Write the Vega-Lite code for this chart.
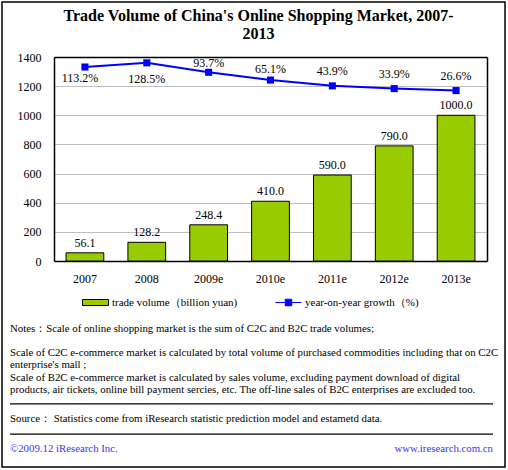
{
  "$schema": "https://vega.github.io/schema/vega-lite/v6.json",
  "width": 503,
  "height": 465,
  "autosize": {"type": "none"},
  "padding": {"left": 2, "top": 2, "right": 3, "bottom": 3},
  "background": "white",
  "title": {
    "text": ["Trade Volume of China's Online Shopping Market, 2007-", "2013"],
    "font": "Liberation Serif",
    "fontSize": 16,
    "fontWeight": "bold",
    "color": "black",
    "lineHeight": 18,
    "anchor": "middle",
    "frame": "group",
    "offset": -40,
    "dx": 5
  },
  "config": {
    "view": {"stroke": "black", "strokeWidth": 1.5},
    "font": "Liberation Serif",
    "axis": {"labelFont": "Liberation Serif", "labelFontSize": 12, "labelColor": "black"},
    "text": {"font": "Liberation Serif", "fontSize": 12, "color": "black"}
  },
  "datasets": {
    "market": [
      {"year": "2007", "volume": 56.1, "growth": 1.132},
      {"year": "2008", "volume": 128.2, "growth": 1.285},
      {"year": "2009e", "volume": 248.4, "growth": 0.937},
      {"year": "2010e", "volume": 410.0, "growth": 0.651},
      {"year": "2011e", "volume": 590.0, "growth": 0.439},
      {"year": "2012e", "volume": 790.0, "growth": 0.339},
      {"year": "2013e", "volume": 1000.0, "growth": 0.266}
    ],
    "notes": [
      {"block": "notes", "part": "head", "side": "left", "text": "Notes：Scale of online shopping market is the sum of C2C and B2C trade volumes;"},
      {"block": "notes", "part": "body", "side": "left", "text": ["Scale of C2C e-commerce market is calculated by total volume of purchased commodities including that on C2C", "enterprise's mall ;", "Scale of B2C e-commerce market is calculated by sales volume, excluding payment download of digital", "products, air tickets, online bill payment sercies, etc.  The off-line sales of B2C enterprises are excluded too."]},
      {"block": "source", "part": "head", "side": "left", "text": "Source：  Statistics come from iResearch statistic prediction model and estametd data."},
      {"block": "footer", "part": "head", "side": "left", "text": "©2009.12 iResearch Inc."},
      {"block": "footer", "part": "head", "side": "right", "text": "www.iresearch.com.cn"}
    ],
    "separators": [
      {"separator": "rule1"},
      {"separator": "rule2"}
    ]
  },
  "layer": [
    {
      "data": {"name": "market"},
      "layer": [
        {
          "layer": [
            {
              "mark": {"type": "bar", "stroke": "black", "strokeWidth": 1},
              "encoding": {
                "x": {
                  "field": "year", "type": "ordinal", "sort": null,
                  "scale": {"range": [52, 485], "paddingInner": 0.39, "paddingOuter": 0.195},
                  "axis": {"orient": "bottom", "offset": -206, "title": null, "ticks": false, "labelAngle": 0, "labelPadding": 12, "domainColor": "black", "domainWidth": 1.5, "grid": false}
                },
                "y": {
                  "field": "volume", "type": "quantitative",
                  "scale": {"domain": [0, 1400], "range": [259, 55], "nice": false},
                  "axis": {"orient": "left", "offset": -52, "title": null, "format": "d", "values": [0, 200, 400, 600, 800, 1000, 1200, 1400], "ticks": false, "labelPadding": 13, "domainColor": "black", "domainWidth": 1.5, "grid": true, "gridColor": {"condition": {"test": "datum.value === 1400", "value": "black"}, "value": "#C0C0C0"}, "gridWidth": {"condition": {"test": "datum.value === 1400", "value": 1.5}, "value": 1}}
                },
                "fill": {
                  "datum": "trade volume（billion yuan)",
                  "scale": {"domain": ["trade volume（billion yuan)"], "range": ["#99CC00"]},
                  "legend": {
                    "orient": "none", "legendX": 80, "legendY": 287, "direction": "horizontal", "title": null,
                    "labelFont": "Liberation Serif", "labelFontSize": 11, "labelColor": "black", "labelLimit": 400,
                    "symbolSize": 676, "labelOffset": 3, "padding": 0,
                    "symbolType": "M-1,-0.23H1V0.23H-1Z",
                    "symbolStrokeColor": "black", "symbolStrokeWidth": 1, "symbolOpacity": 1
                  }
                }
              }
            },
            {
              "mark": {"type": "text", "baseline": "bottom", "dy": -3, "fontSize": 12},
              "encoding": {
                "x": {"field": "year", "type": "ordinal", "sort": null},
                "y": {"field": "volume", "type": "quantitative"},
                "text": {"field": "volume", "type": "quantitative", "format": ".1f"}
              }
            }
          ]
        },
        {
          "layer": [
            {
              "mark": {"type": "line", "strokeWidth": 2, "point": {"shape": "square", "size": 50, "filled": true, "fill": "#0000FF", "stroke": "#0000FF", "strokeWidth": 0}},
              "encoding": {
                "x": {"field": "year", "type": "ordinal", "sort": null},
                "y": {
                  "field": "growth", "type": "quantitative",
                  "scale": {"domain": [-6, 1.5], "range": [259, 55], "nice": false, "zero": false},
                  "axis": {"orient": "right", "offset": -18, "title": null, "labels": false, "ticks": false, "grid": false, "domainColor": "black", "domainWidth": 1.5}
                },
                "stroke": {
                  "datum": "year-on-year growth（%)",
                  "scale": {"domain": ["year-on-year growth（%)"], "range": ["#0000FF"]},
                  "legend": {
                    "orient": "none", "legendX": 273, "legendY": 287, "direction": "horizontal", "title": null,
                    "labelFont": "Liberation Serif", "labelFontSize": 11, "labelColor": "black", "labelLimit": 400,
                    "symbolSize": 676, "labelOffset": 3, "padding": 0,
                    "symbolType": "M-1,0H1M-0.25,-0.25H0.25V0.25H-0.25Z",
                    "symbolFillColor": "#0000FF", "symbolStrokeWidth": 1, "symbolOpacity": 1
                  }
                }
              }
            },
            {
              "transform": [{"filter": {"field": "year", "equal": "2007"}}],
              "mark": {"type": "text", "baseline": "middle", "dy": 11, "dx": -5, "fontSize": 12},
              "encoding": {
                "x": {"field": "year", "type": "ordinal", "sort": null},
                "y": {"field": "growth", "type": "quantitative"},
                "text": {"field": "growth", "type": "quantitative", "format": ".1%"}
              }
            },
            {
              "transform": [{"filter": {"field": "year", "equal": "2008"}}],
              "mark": {"type": "text", "baseline": "middle", "dy": 16, "fontSize": 12},
              "encoding": {
                "x": {"field": "year", "type": "ordinal", "sort": null},
                "y": {"field": "growth", "type": "quantitative"},
                "text": {"field": "growth", "type": "quantitative", "format": ".1%"}
              }
            },
            {
              "transform": [{"filter": {"field": "year", "equal": "2009e"}}],
              "mark": {"type": "text", "baseline": "middle", "dy": -9, "fontSize": 12},
              "encoding": {
                "x": {"field": "year", "type": "ordinal", "sort": null},
                "y": {"field": "growth", "type": "quantitative"},
                "text": {"field": "growth", "type": "quantitative", "format": ".1%"}
              }
            },
            {
              "transform": [{"filter": {"field": "year", "equal": "2010e"}}],
              "mark": {"type": "text", "baseline": "middle", "dy": -11.5, "fontSize": 12},
              "encoding": {
                "x": {"field": "year", "type": "ordinal", "sort": null},
                "y": {"field": "growth", "type": "quantitative"},
                "text": {"field": "growth", "type": "quantitative", "format": ".1%"}
              }
            },
            {
              "transform": [{"filter": {"field": "year", "oneOf": ["2011e", "2012e", "2013e"]}}],
              "mark": {"type": "text", "baseline": "middle", "dy": -14.5, "fontSize": 12},
              "encoding": {
                "x": {"field": "year", "type": "ordinal", "sort": null},
                "y": {"field": "growth", "type": "quantitative"},
                "text": {"field": "growth", "type": "quantitative", "format": ".1%"}
              }
            }
          ]
        }
      ],
      "resolve": {"scale": {"y": "independent"}}
    },
    {
      "layer": [
        {
          "data": {"name": "notes"},
          "transform": [{"filter": "datum.block === 'notes' && datum.part === 'head'"}],
          "mark": {"type": "text", "align": "left", "baseline": "bottom", "dy": -55, "fontSize": 10.8},
          "encoding": {
            "x": {"datum": 0, "type": "quantitative", "scale": {"domain": [0, 1], "range": [8, 491]}, "axis": null},
            "y": {"field": "block", "type": "ordinal", "scale": {"type": "point", "domain": ["notes", "rule1", "source", "rule2", "footer"], "range": [386.7, 447.3], "padding": 0}, "axis": null},
            "text": {"field": "text", "type": "nominal"}
          }
        },
        {
          "data": {"name": "notes"},
          "transform": [{"filter": "datum.block === 'notes' && datum.part === 'body'"}],
          "mark": {"type": "text", "align": "left", "baseline": "bottom", "dy": -30.6, "fontSize": 10.8, "lineHeight": 12.3},
          "encoding": {
            "x": {"datum": 0, "type": "quantitative"},
            "y": {"field": "block", "type": "ordinal"},
            "text": {"field": "text", "type": "nominal"}
          }
        },
        {
          "data": {"name": "notes"},
          "transform": [{"filter": "datum.block === 'source'"}],
          "mark": {"type": "text", "align": "left", "baseline": "middle", "fontSize": 10.8},
          "encoding": {
            "x": {"datum": 0, "type": "quantitative"},
            "y": {"field": "block", "type": "ordinal"},
            "text": {"field": "text", "type": "nominal"}
          }
        },
        {
          "data": {"name": "notes"},
          "transform": [{"filter": "datum.block === 'footer' && datum.side === 'left'"}],
          "mark": {"type": "text", "align": "left", "baseline": "middle", "fontSize": 10.8, "color": "#3333FF"},
          "encoding": {
            "x": {"datum": 0, "type": "quantitative"},
            "y": {"field": "block", "type": "ordinal"},
            "text": {"field": "text", "type": "nominal"}
          }
        },
        {
          "data": {"name": "notes"},
          "transform": [{"filter": "datum.block === 'footer' && datum.side === 'right'"}],
          "mark": {"type": "text", "align": "right", "baseline": "middle", "fontSize": 10.8, "color": "#3333FF"},
          "encoding": {
            "x": {"datum": 1, "type": "quantitative"},
            "y": {"field": "block", "type": "ordinal"},
            "text": {"field": "text", "type": "nominal"}
          }
        },
        {
          "data": {"name": "separators"},
          "mark": {"type": "rule", "color": "black", "strokeWidth": 1.2},
          "encoding": {
            "x": {"datum": 0, "type": "quantitative"},
            "x2": {"datum": 1},
            "y": {"field": "separator", "type": "ordinal"}
          }
        }
      ]
    }
  ],
  "resolve": {"scale": {"x": "independent", "y": "independent"}}
}
